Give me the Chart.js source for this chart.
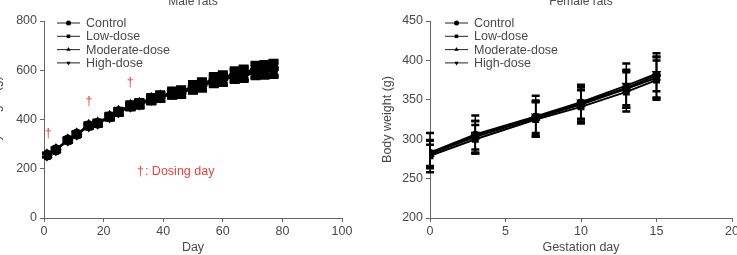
<!DOCTYPE html>
<html>
<head>
<meta charset="utf-8">
<script src="https://cdn.jsdelivr.net/npm/chart.js@4.4.0/dist/chart.umd.min.js"></script>
<style>
  html, body { margin: 0; padding: 0; background: #fff; overflow: hidden; }
  body { width: 737px; height: 255px; position: relative; }
  .box { position: absolute; top: 0; height: 255px; }
  #maleBox { left: -11px; width: 379px; }
  #femaleBox { left: 380px; width: 365px; }
</style>
</head>
<body>
<div class="box" id="maleBox"><canvas id="maleChart"></canvas></div>
<div class="box" id="femaleBox"><canvas id="femaleChart"></canvas></div>
<script>
// Male rats: body weight (g) by day
const maleDays = [1, 4, 8, 11, 15, 18, 22, 25, 29, 32, 36, 39, 43, 46, 50, 53, 57, 60, 64, 67, 71, 74, 77];
const maleControl  = [256, 277, 317, 341, 375, 385, 411, 431, 455, 463, 482, 492, 506, 510, 530, 540, 560, 566, 580, 586, 600, 602, 608];
const maleLow      = [254, 276, 315, 339, 372, 383, 409, 428, 452, 461, 478, 489, 503, 507, 526, 535, 554, 560, 573, 578, 590, 593, 598];
const maleModerate = [257, 278, 318, 342, 377, 387, 413, 433, 458, 466, 486, 496, 510, 514, 534, 545, 565, 571, 586, 592, 606, 609, 612];
const maleHigh     = [255, 276, 316, 340, 374, 384, 410, 430, 454, 462, 481, 491, 505, 509, 528, 538, 557, 563, 577, 583, 596, 598, 602];
const maleErrA = [8, 8, 9, 10, 11, 12, 13, 14, 15, 16, 17, 18, 19, 20, 21, 22, 23, 24, 25, 26, 27, 28, 30];
const maleErrB = [7, 8, 9, 9, 10, 11, 12, 13, 14, 15, 16, 17, 18, 19, 20, 21, 22, 23, 24, 25, 26, 27, 28];
const maleXTicks = [0, 100, 20];
const maleYTicks = [0, 800, 200];

// dosing day markers
const daggerDays = [1.4, 15.1, 28.9];
const daggerWeights = [343, 472, 552];
const dosingNote = { day: 31.2, weight: 187, text: ': Dosing day' };

// Female rats: body weight (g) by gestation day
const femaleDays = [0, 3, 7, 10, 13, 15];
const femaleControl  = [282, 305, 328, 346, 365, 381];
const femaleLow      = [279, 300, 325, 341, 360, 375];
const femaleModerate = [281, 303, 327, 344, 364, 378];
const femaleHigh     = [283, 306, 329, 347, 368, 383];
const femaleErrControl  = [16, 18, 20, 20, 22, 28];
const femaleErrLow      = [14, 18, 22, 21, 25, 25];
const femaleErrModerate = [18, 20, 22, 22, 24, 26];
const femaleErrHigh     = [25, 24, 26, 22, 28, 22];
const femaleXTicks = [0, 20, 5];
const femaleYTicks = [200, 450, 50];

const seriesNames = ['Control', 'Low-dose', 'Moderate-dose', 'High-dose'];
const markerStyles = ['circle', 'rect', 'triangle', 'triangle'];
const markerRotation = [0, 0, 0, 180];

const FONT = 'Liberation Sans, Arial, Helvetica, sans-serif';
const TEXT = '#4a4a4a';
const AXIS = '#666';
const RED = '#e2463c';

function makeDatasets(xs, series, errs, radius) {
    return series.map((vals, i) => ({
        label: seriesNames[i],
        data: xs.map((x, j) => ({ x: x, y: vals[j] })),
        errors: errs[i],
        borderColor: '#000',
        backgroundColor: '#000',
        borderWidth: 2,
        pointStyle: markerStyles[i],
        rotation: markerRotation[i],
        pointRadius: radius,
        tension: 0
    }));
}

// error bars drawn through the scales
const errorBars = {
    id: 'errorBars',
    afterDatasetsDraw(chart, args, opts) {
        const ctx = chart.ctx;
        const yScale = chart.scales.y;
        const cap = opts.cap || 4;
        ctx.save();
        ctx.strokeStyle = '#000';
        chart.data.datasets.forEach((ds, i) => {
            const meta = chart.getDatasetMeta(i);
            meta.data.forEach((pt, j) => {
                const v = ds.data[j].y;
                const e = ds.errors[j];
                const top = yScale.getPixelForValue(v + e);
                const bot = yScale.getPixelForValue(v - e);
                ctx.lineWidth = 1.5;
                ctx.beginPath();
                ctx.moveTo(pt.x, top);
                ctx.lineTo(pt.x, bot);
                ctx.stroke();
                ctx.lineWidth = 2.5;
                ctx.beginPath();
                ctx.moveTo(pt.x - cap, top);
                ctx.lineTo(pt.x + cap, top);
                ctx.moveTo(pt.x - cap, bot);
                ctx.lineTo(pt.x + cap, bot);
                ctx.stroke();
            });
        });
        ctx.restore();
    }
};

// legend in the top-left corner of the plot, plus the clipped panel title
const cornerLegend = {
    id: 'cornerLegend',
    afterDraw(chart, args, opts) {
        const ctx = chart.ctx;
        const area = chart.chartArea;
        ctx.save();
        ctx.font = '12px ' + FONT;
        ctx.fillStyle = TEXT;
        ctx.textAlign = 'center';
        ctx.textBaseline = 'alphabetic';
        ctx.fillText(opts.title, (area.left + area.right) / 2, 4.5);

        ctx.font = '12.5px ' + FONT;
        chart.data.datasets.forEach((ds, i) => {
            const y = area.top + 2 + i * 13.3;
            const x0 = area.left + opts.dx;
            ctx.strokeStyle = '#222';
            ctx.lineWidth = 1;
            ctx.beginPath();
            ctx.moveTo(x0, y);
            ctx.lineTo(x0 + 23, y);
            ctx.stroke();
            ctx.fillStyle = '#000';
            Chart.helpers.drawPoint(ctx, { pointStyle: ds.pointStyle, rotation: ds.rotation, radius: 2.5, borderWidth: 0 }, x0 + 11.5, y);
            ctx.fillStyle = TEXT;
            ctx.textAlign = 'left';
            ctx.textBaseline = 'middle';
            ctx.fillText(ds.label, x0 + 29, y + 0.5);
        });
        ctx.restore();
    }
};

const dosingMarks = {
    id: 'dosingMarks',
    afterDraw(chart, args, opts) {
        if (!opts.show) return;
        const ctx = chart.ctx;
        const xs = chart.scales.x, ys = chart.scales.y;
        ctx.save();
        ctx.fillStyle = RED;
        ctx.font = '12.5px ' + FONT;
        ctx.textBaseline = 'middle';
        ctx.textAlign = 'center';
        daggerDays.forEach((d, i) => {
            ctx.fillText('\u2020', xs.getPixelForValue(d), ys.getPixelForValue(daggerWeights[i]));
        });
        ctx.textAlign = 'left';
        const nx = xs.getPixelForValue(dosingNote.day);
        const ny = ys.getPixelForValue(dosingNote.weight);
        ctx.fillText('\u2020', nx, ny);
        ctx.fillText(dosingNote.text, nx + ctx.measureText('\u2020').width + 1, ny);
        ctx.restore();
    }
};

function axisOptions(xTicks, yTicks, xTitle, yWidth, padRight) {
    const grid = { display: true, drawOnChartArea: false, drawTicks: true, tickLength: 4, color: AXIS, lineWidth: 1 };
    const border = { display: true, color: AXIS, width: 1 };
    const tickFont = { family: FONT, size: 12.5 };
    return {
        responsive: true,
        maintainAspectRatio: false,
        animation: false,
        layout: { padding: { top: 21, right: padRight, bottom: 0, left: 0 } },
        plugins: { legend: { display: false }, tooltip: { enabled: false } },
        scales: {
            x: {
                type: 'linear',
                min: xTicks[0], max: xTicks[1],
                grid: grid, border: border,
                ticks: { stepSize: xTicks[2], color: TEXT, font: tickFont, padding: 2, maxRotation: 0 },
                title: { display: true, text: xTitle, color: TEXT, font: { family: FONT, size: 12.5 }, padding: { top: 0, bottom: 0 } },
                afterFit(s) { s.height = 37; }
            },
            y: {
                min: yTicks[0], max: yTicks[1],
                grid: grid, border: border,
                ticks: { stepSize: yTicks[2], color: TEXT, font: tickFont, padding: 3 },
                title: { display: true, text: 'Body weight (g)', color: TEXT, font: { family: FONT, size: 12.5 }, padding: { top: 0, bottom: 0 } },
                afterFit(s) { s.width = yWidth; }
            }
        }
    };
}

const maleOpts = axisOptions(maleXTicks, maleYTicks, 'Day', 55, 26);
maleOpts.plugins.cornerLegend = { title: 'Male rats', dx: 13 };
maleOpts.plugins.dosingMarks = { show: true };
maleOpts.plugins.errorBars = { cap: 5 };

new Chart(document.getElementById('maleChart'), {
    type: 'line',
    data: { datasets: makeDatasets(maleDays, [maleControl, maleLow, maleModerate, maleHigh], [maleErrA, maleErrB, maleErrA, maleErrB], 4.5) },
    options: maleOpts,
    plugins: [errorBars, cornerLegend, dosingMarks]
});

const femaleOpts = axisOptions(femaleXTicks, femaleYTicks, 'Gestation day', 50, 13);
femaleOpts.plugins.cornerLegend = { title: 'Female rats', dx: 15 };
femaleOpts.plugins.dosingMarks = { show: false };
femaleOpts.plugins.errorBars = { cap: 4 };

new Chart(document.getElementById('femaleChart'), {
    type: 'line',
    data: { datasets: makeDatasets(femaleDays, [femaleControl, femaleLow, femaleModerate, femaleHigh], [femaleErrControl, femaleErrLow, femaleErrModerate, femaleErrHigh], 3.5) },
    options: femaleOpts,
    plugins: [errorBars, cornerLegend, dosingMarks]
});
</script>
</body>
</html>
